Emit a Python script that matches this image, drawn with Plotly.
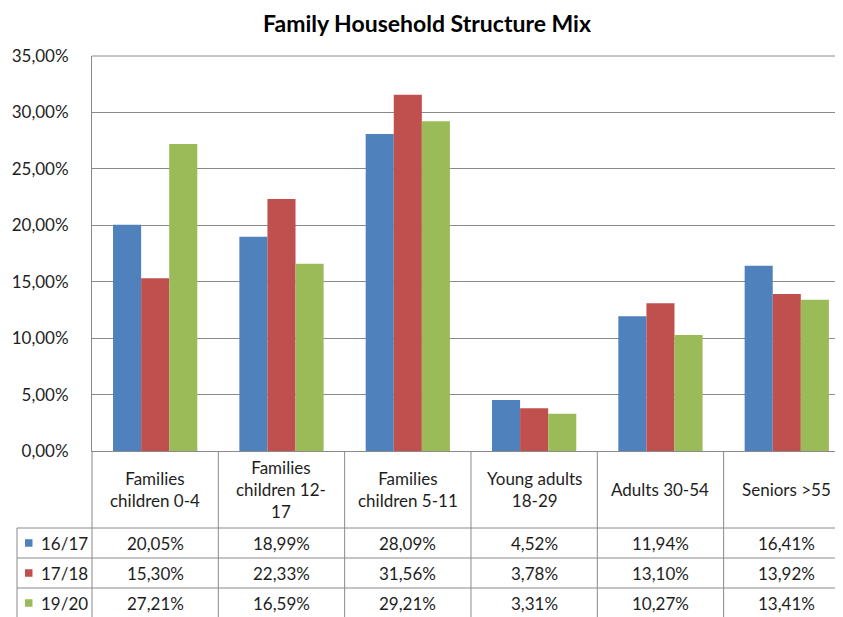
import plotly.graph_objects as go

categories = ["Families<br>children 0-4", "Families<br>children 12-<br>17", "Families<br>children 5-11",
              "Young adults<br>18-29", "Adults 30-54", "Seniors >55"]
series_names = ["16/17", "17/18", "19/20"]
v1617 = [20.05, 18.99, 28.09, 4.52, 11.94, 16.41]
v1718 = [15.30, 22.33, 31.56, 3.78, 13.10, 13.92]
v1920 = [27.21, 16.59, 29.21, 3.31, 10.27, 13.41]
colors = ["#4F81BD", "#C0504D", "#9BBB59"]
series = [v1617, v1718, v1920]

# page offset caused by default body margin
OFF = 8
W, H = 843 - OFF, 617 - OFF
PL, PT, PB = 92, 56, 451          # plot edges in page pixels
ML, MR, MT = PL - OFF, 0, PT - OFF
MB = H - (PB - OFF)
PW = W - ML - MR
PH = H - MT - MB
X0, X1 = -0.5, 5.445
FONT = "Lato"
FS = 17
GRID = "#8a8a8a"
TXT = "#1e1e1e"

def px(xpage):
    return (xpage - PL) / PW

def py(ypage):
    return (PB - ypage) / PH

def catx(k):
    return (k - X0) / (X1 - X0)

fig = go.Figure()
xs = list(range(len(categories)))
for name, vals, c in zip(series_names, series, colors):
    fig.add_trace(go.Bar(x=xs, y=[v / 100 for v in vals], name=name, marker_color=c,
                         marker_line_width=0, showlegend=False))

shapes = []
line = dict(color=GRID, width=1)
row_tops = [451, 528, 558, 588, 618]
for yy in row_tops[1:]:
    shapes.append(dict(type="line", xref="paper", yref="paper", x0=px(17), x1=1, y0=py(yy), y1=py(yy), line=line))
for k in range(len(categories) + 1):
    xb = catx(k - 0.5)
    if xb > 1.0001:
        continue
    shapes.append(dict(type="line", xref="paper", yref="paper", x0=xb, x1=xb, y0=0, y1=py(622), line=line))
shapes.append(dict(type="line", xref="paper", yref="paper", x0=px(17), x1=px(17), y0=py(528), y1=py(622), line=line))
shapes.append(dict(type="line", xref="paper", yref="paper", x0=0, x1=1, y0=1, y1=1, line=line))

annotations = []
for k, cat in enumerate(categories):
    annotations.append(dict(x=catx(k), y=py(489.5), xref="paper", yref="paper", text=cat, showarrow=False,
                            font=dict(family=FONT, size=FS, color=TXT), align="center",
                            xanchor="center", yanchor="middle"))
row_centers = [543, 573, 603]
for r, (name, vals, c) in enumerate(zip(series_names, series, colors)):
    yc = py(row_centers[r])
    shapes.append(dict(type="rect", xref="paper", yref="paper", x0=px(25), x1=px(32.5),
                       y0=yc - 3.75 / PH, y1=yc + 3.75 / PH, fillcolor=c, line=dict(width=0)))
    annotations.append(dict(x=px(39), y=yc, xref="paper", yref="paper", text=name, showarrow=False,
                            font=dict(family=FONT, size=FS, color=TXT), xanchor="left", yanchor="middle"))
    for k, v in enumerate(vals):
        annotations.append(dict(x=catx(k), y=yc, xref="paper", yref="paper",
                                text=f"{v:.2f}%".replace(".", ","), showarrow=False,
                                font=dict(family=FONT, size=FS, color=TXT), xanchor="center", yanchor="middle"))

fig.update_layout(
    width=W, height=H,
    margin=dict(l=ML, r=MR, t=MT, b=MB, pad=0),
    paper_bgcolor="white", plot_bgcolor="white",
    separators=",.",
    barmode="group", bargap=0.333, bargroupgap=0,
    title=dict(text="<b>Family Household Structure Mix</b>", x=(427 - OFF) / W, xanchor="center",
               y=1 - (24 - OFF) / H, yanchor="middle", font=dict(family=FONT, size=23, color="#000")),
    xaxis=dict(range=[X0, X1], showticklabels=False, showgrid=False, zeroline=False,
               showline=True, linecolor=GRID, linewidth=1, ticks=""),
    yaxis=dict(range=[0, 0.35], dtick=0.05, tickformat=".2%", showgrid=True, gridcolor=GRID, gridwidth=1,
               zeroline=False, showline=True, linecolor=GRID, linewidth=1, ticks="",
               ticklabelstandoff=19, tickfont=dict(family=FONT, size=FS, color=TXT)),
    shapes=shapes, annotations=annotations,
)
fig.write_html("out.html")
